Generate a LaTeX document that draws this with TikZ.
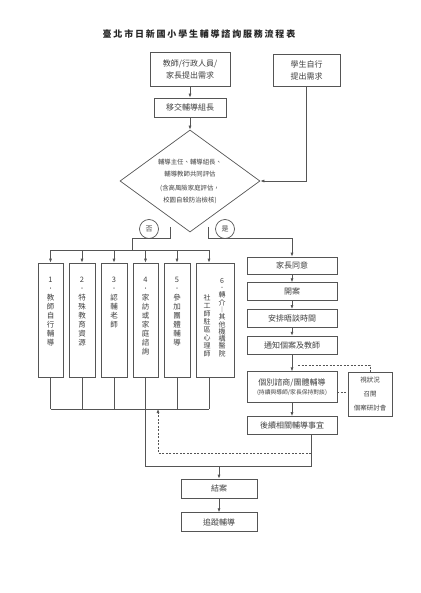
\documentclass[tikz,border=0pt]{standalone}
\usepackage{fontspec}
\setmainfont{Noto Sans CJK TC}
\usetikzlibrary{positioning, shapes.geometric, arrows.meta}
\definecolor{linegray}{HTML}{555555}
\definecolor{textgray}{HTML}{404040}

\begin{document}
\begin{tikzpicture}[x=1pt, y=-1pt,
    box/.style={draw=linegray, line width=0.7pt, text=textgray, align=center,
      minimum width=90pt, minimum height=18pt, inner sep=1pt,
      font=\fontsize{8}{12}\selectfont},
    colbox/.style={draw=linegray, line width=0.7pt, minimum height=114pt, inner sep=0pt},
    coltext/.style={anchor=north, inner sep=0pt, align=center, text=textgray,
      font=\fontsize{7.5}{9}\selectfont},
    decide/.style={draw=linegray, line width=0.7pt, diamond, aspect=1.4,
      minimum width=140pt, minimum height=102pt, inner sep=0pt, align=center,
      text=textgray, font=\fontsize{6.4}{12}\selectfont},
    answer/.style={draw=linegray, line width=0.7pt, circle, minimum size=19pt,
      inner sep=0pt, text=textgray, font=\fontsize{7}{8}\selectfont},
    link/.style={draw=linegray, line width=0.7pt},
    flow/.style={link, -{Latex[length=4pt,width=3pt]}},
    dline/.style={link, dashed, dash pattern=on 2pt off 1.5pt},
    node distance=8pt
  ]
  \useasboundingbox (0,0) rectangle (420,593);

  % title
  \node[text=black!85, font=\bfseries\fontsize{9}{10}\selectfont\addfontfeatures{LetterSpace=20}] (title) at (199,34) {臺北市日新國小學生輔導諮詢服務流程表};

  % referral and evaluation
  \node[box, minimum width=80pt, minimum height=34pt] (need) at (190,69) {教師/行政人員/\\家長提出需求};
  \node[box, minimum width=67pt, minimum height=32pt] (self) at (306.5,70) {學生自行\\提出需求};
  \node[box, minimum width=72pt, minimum height=19pt] (hand) at (190,107.5) {移交輔導組長};
  \node[decide] (eval) at (190,181) {輔導主任、輔導組長、\\輔導教師共同評估\\[2pt](含高風險家庭評估，\\校園自殺防治檢核)};
  \node[answer] (no) at (149,229) {否};
  \node[answer] (yes) at (225,229) {是};

  % the six ways for "no"
  \node[colbox, minimum width=25pt] (c1) at (50.5,320) {};
  \node[colbox, minimum width=26pt] (c2) at (82,320) {};
  \node[colbox, minimum width=26pt] (c3) at (114,320) {};
  \node[colbox, minimum width=25pt] (c4) at (145.5,320) {};
  \node[colbox, minimum width=26pt] (c5) at (177,320) {};
  \node[colbox, minimum width=38pt] (c6) at (215,320) {};
  \node[coltext, below=14pt of c1.north] (t1) {1\\．\\教\\師\\自\\行\\輔\\導};
  \node[coltext, below=14pt of c2.north] (t2) {2\\．\\特\\殊\\教\\育\\資\\源};
  \node[coltext, below=14pt of c3.north] (t3) {3\\．\\認\\輔\\老\\師};
  \node[coltext, below=14pt of c4.north] (t4) {4\\．\\家\\訪\\或\\家\\庭\\諮\\詢};
  \node[coltext, below=14pt of c5.north] (t5) {5\\．\\參\\加\\團\\體\\輔\\導};
  \node[coltext, font=\fontsize{7}{7.3}\selectfont] (t6a) at (222,278) {6\\．\\轉\\介\\︱\\其\\他\\機\\構\\醫\\院};
  \node[coltext, font=\fontsize{7}{8}\selectfont] (t6b) at (207,294) {社\\工\\師\\駐\\區\\心\\理\\師};
  \coordinate (c6top) at ([xshift=-6pt]c6.north);
  \coordinate (c6bot) at ([xshift=-6pt]c6.south);

  % the steps for "yes"
  \node[box, minimum height=17pt] (agree) at (292,265.5) {家長同意};
  \node[box, below=of agree] (open) {開案};
  \node[box, below=of open] (sched) {安排晤談時間};
  \node[box, below=of sched] (notify) {通知個案及教師};
  \node[box, minimum height=31pt, below=17pt of notify] (couns) {個別諮商/團體輔導\\[-3pt]{\fontsize{5.8}{6}\selectfont(持續與導師/家長保持對談)}};
  \node[box, below=13pt of couns] (follow) {後續相關輔導事宜};
  \node[box, minimum width=44pt, minimum height=44pt, font=\fontsize{6.5}{14}\selectfont] (conf) at (370,394) {視狀況\\召開\\個案研討會};

  % end
  \node[box, minimum width=76pt, minimum height=19pt] (close) at (219,488.5) {結案};
  \node[box, minimum width=76pt, minimum height=19pt, below=14pt of close] (track) {追蹤輔導};

  % connectors on top
  \draw[flow] (need) -- (hand);
  \draw[flow] (hand) -- (eval);
  \draw[flow] (self) |- (eval.east);

  % no branch
  \coordinate (nofrom) at (170,227);
  \coordinate (nobus) at (132,250);
  \draw[link] (nofrom) -- ++(0,11) -| (nobus);
  \draw[link] (c1.north |- nobus) -- (c6top |- nobus);
  \foreach \i in {1,...,5}
    \draw[flow] (c\i.north |- nobus) -- (c\i.north);
  \draw[flow] (c6top |- nobus) -- (c6top);
  \coordinate (botbus) at (0,409);
  \foreach \i in {1,...,5}
    \draw[link] (c\i.south) -- (c\i.south |- botbus);
  \draw[link] (c6bot) -- (c6bot |- botbus);
  \draw[link] (c1.south |- botbus) -- (c6bot |- botbus);

  % yes branch
  \coordinate (yesfrom) at (208,227);
  \draw[flow] (yesfrom) -- ++(0,11) -| (agree);
  \draw[flow] (agree) -- (open);
  \draw[flow] (open) -- (sched);
  \draw[flow] (sched) -- (notify);
  \draw[flow] (notify) -- (couns);
  \draw[flow] (couns) -- (follow);
  \coordinate (dsplit) at (298,365);
  \draw[dline] (dsplit) -| (conf.north);
  \draw[dline] ([yshift=-5pt]couns.east) -- ([yshift=-5pt]couns.east -| conf.west);

  % merge and back loop
  \coordinate (merge) at (0,466);
  \coordinate (fout) at ([xshift=19pt]follow.south);
  \draw[link] (c4.south) -- (c4.south |- merge) -| (fout);
  \coordinate (back) at (158,453);
  \draw[dline, -{Latex[length=4pt,width=3pt]}] (fout |- back) -- (back) -- (back |- botbus);
  \draw[flow] (close.north |- merge) -- (close);
  \draw[flow] (close) -- (track);
\end{tikzpicture}
\end{document}
